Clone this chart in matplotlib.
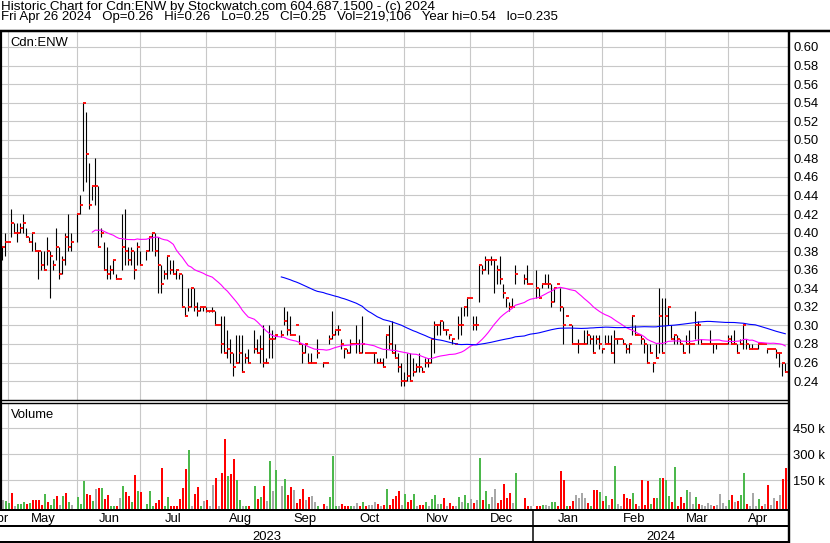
import numpy as np
import pandas as pd
import matplotlib
matplotlib.use('Agg')
import matplotlib.pyplot as plt
from matplotlib.lines import Line2D

plt.rcParams['font.family'] = ['Liberation Sans', 'DejaVu Sans']

# one slot per weekday, Thu Apr 27 2023 .. Fri Apr 26 2024 (None = no trade)
high = [.385, .40, .39, .425, .41, .41, .41, .42, .405, .395,
        .40, .39, .38, .38, .38, .395, .38, .37, .405, .385,
        .375, .40, .42, .40, None, .42, .44, .54, .53, .475,
        .45, .48, .45, .405, .39, .385, .365, .37, .355, .35,
        .42, .425, .385, .385, .38, .39, .38, None, .38, .395,
        .40, .40, .395, .365, .36, .375, .37, .37, .36, .355,
        .355, .32, .34, .34, .34, .325, .32, .32, .32, .315,
        .32, .315, .30, .31, .31, .295, .285, .27, .29, .29,
        .29, .27, .275, None, .295, .285, .29, .30, .265, .30,
        .295, .29, None, .295, .32, .315, .31, .29, .30, .29,
        .28, .28, .27, .27, .26, .285, None, .26, .26, .29,
        .315, .295, .30, .285, .275, .275, .285, .28, .30, .285,
        .31, .27, .27, .27, .27, .265, .265, .265, .29, .30,
        .305, .28, .27, .26, .25, .27, .27, .265, .26, .27,
        .255, .265, .265, .285, .305, .30, .305, .305, .295, .29,
        .285, .28, .31, .32, .32, .33, .33, .31, .31, .365,
        .365, .375, .37, .375, .37, .365, .375, .345, .33, .325,
        .33, .365, None, None, .355, .365, .345, None, .36, .34,
        .345, .355, .355, .345, .34, .345, .34, .32, .31, .30,
        .30, .28, .285, .28, .295, .295, .29, .29, .29, .29,
        .275, .29, .29, .29, .295, .285, .285, .285, .28, .28,
        .31, .30, .29, .29, .285, .28, .28, .26, .28, .34,
        .33, .33, .32, .30, .29, .29, .285, .28, .29, .295,
        .28, .315, .305, .285, .28, .28, .295, .28, .28, .28,
        .28, .28, .29, .29, .295, .28, .285, .30, .285, .28,
        .28, .275, .28, .28, .28, .275, .275, .275, .275, .27,
        .26, .26]
low = [.37, .375, .39, .395, .40, .39, .40, .40, .395, .39,
       .38, .38, .35, .36, .36, .365, .33, .36, .37, .35,
       .355, .365, .38, .38, None, .39, .42, .445, .455, .425,
       .435, .43, .385, .395, .36, .35, .35, .355, .35, .35,
       .36, .365, .365, .365, .35, .365, .365, None, .37, .38,
       .38, .375, .335, .335, .35, .35, .355, .355, .35, .35,
       .32, .31, .315, .32, .315, .31, .315, .315, .314, .314,
       .314, .30, .30, .27, .27, .265, .26, .245, .26, .26,
       .25, .26, .26, None, .27, .27, .26, .255, .26, .265,
       .265, .285, None, .288, .30, .29, .29, .29, .30, .28,
       .26, .27, .26, .26, .26, .265, None, .255, .26, .28,
       .285, .29, .29, .275, .265, .27, .27, .28, .27, .27,
       .27, .27, .27, .27, .26, .26, .26, .255, .265, .275,
       .27, .265, .25, .235, .235, .24, .24, .245, .25, .25,
       .25, .255, .255, .26, .27, .29, .29, .295, .29, .285,
       .28, .28, .285, .29, .31, .31, .33, .295, .295, .325,
       .355, .36, .355, .365, .335, .345, .345, .33, .32, .315,
       .32, .345, None, None, .345, .345, .345, None, .33, .33,
       .34, .345, .34, .32, .325, .345, .315, .28, .31, .30,
       .28, .28, .27, .28, .28, .28, .28, .27, .28, .275,
       .27, .28, .28, .27, .26, .28, .285, .28, .27, .27,
       .29, .29, .29, .28, .27, .26, .27, .25, .265, .27,
       .27, .28, .30, .285, .28, .28, .28, .27, .28, .27,
       .28, .285, .28, .28, .28, .28, .28, .27, .275, .28,
       .28, .28, .28, .28, .28, .27, .28, .275, .275, .275,
       .275, .275, .275, .28, .28, .27, .275, .275, .265, .255,
       .245, .25]
close = [.385, .39, .39, .41, .40, .40, .405, .41, .395, .39,
         .40, .38, .38, .365, .36, .38, .375, .365, .385, .355,
         .37, .395, .385, .39, None, .42, .43, .54, .485, .43,
         .45, .45, .385, .40, .36, .355, .36, .37, .35, .35,
         .385, .38, .37, .38, .36, .385, .365, None, .38, .395,
         .40, .38, .365, .345, .355, .375, .36, .355, .36, .355,
         .32, .31, .32, .34, .32, .315, .32, .32, .315, .315,
         .315, .30, .30, .28, .27, .275, .27, .255, .26, .27,
         .25, .265, .26, None, .275, .27, .275, .26, .26, .285,
         .285, .29, None, .29, .305, .295, .29, .29, .30, .28,
         .27, .28, .26, .26, .26, .27, None, .26, .26, .285,
         .29, .295, .295, .28, .275, .27, .28, .28, .28, .27,
         .28, .27, .27, .27, .27, .26, .26, .255, .29, .28,
         .27, .265, .255, .24, .24, .245, .24, .25, .255, .255,
         .25, .26, .26, .285, .30, .30, .305, .295, .295, .29,
         .285, .28, .30, .30, .32, .33, .33, .30, .30, .365,
         .36, .37, .37, .37, .37, .36, .35, .335, .33, .32,
         .32, .355, None, None, .35, .345, .345, None, .34, .33,
         .345, .345, .345, .325, .34, .345, .32, .30, .31, .30,
         .28, .28, .28, .28, .28, .29, .285, .27, .285, .28,
         .275, .28, .28, .27, .285, .285, .285, .28, .275, .28,
         .31, .29, .29, .285, .28, .26, .27, .26, .265, .31,
         .27, .31, .32, .285, .29, .285, .28, .27, .28, .28,
         .28, .30, .30, .28, .28, .28, .28, .28, .28, .28,
         .28, .28, .285, .28, .28, .27, .28, .30, .28, .275,
         .275, .275, .28, .28, .28, .275, .275, .275, .27, .27,
         .26, .25]
volume_k = [35, 31, 19, 77, 2, 15, 15, 23, 15, 19,
            37, 37, 37, 8, 71, 25, 5, 42, 60, 8,
            60, 77, 25, 5, 0, 54, 13, 146, 71, 67,
            31, 100, 106, 106, 42, 65, 2, 2, 2, 48,
            117, 83, 60, 25, 181, 88, 83, 0, 13, 88,
            2, 19, 37, 221, 2, 54, 2, 2, 2, 42,
            106, 215, 325, 2, 71, 112, 2, 31, 37, 2,
            123, 163, 2, 192, 388, 175, 187, 273, 152, 37,
            3, 2, 2, 0, 117, 42, 54, 117, 31, 262,
            88, 210, 0, 117, 158, 65, 112, 94, 19, 42,
            100, 37, 54, 60, 23, 2, 0, 13, 2, 54,
            290, 2, 2, 13, 2, 2, 2, 3, 19, 2,
            25, 2, 8, 8, 25, 13, 2, 8, 100, 8,
            42, 60, 88, 8, 71, 25, 37, 71, 2, 8,
            8, 25, 2, 42, 65, 13, 13, 48, 2, 19,
            2, 2, 54, 25, 65, 19, 42, 19, 37, 279,
            37, 88, 13, 54, 100, 19, 37, 129, 48, 77,
            19, 192, 0, 0, 48, 2, 2, 0, 2, 2,
            8, 8, 2, 25, 25, 2, 204, 152, 2, 2,
            31, 65, 48, 77, 48, 19, 2, 94, 94, 83,
            31, 60, 8, 42, 235, 13, 2, 71, 48, 44,
            77, 13, 2, 152, 8, 146, 13, 48, 48, 163,
            163, 152, 60, 25, 227, 2, 54, 19, 94, 83,
            13, 54, 13, 8, 2, 19, 8, 2, 8, 71,
            19, 2, 37, 65, 25, 31, 65, 192, 13, 2,
            77, 2, 42, 2, 13, 123, 8, 48, 31, 65,
            158, 219]
# g = up day, r = down day, n = unchanged, - = no trade
vol_colour = ("nggrngggrg" "rrrrgrggrn" "grgn-gggrr" "gnrgrrggrn" "grrgrgr-gg"
              "grrrggrrrr" "rrgnrrgnrn" "nrnrrgrrgg" "ngr-grgrng" "ng-ngrrnrr"
              "rnrnng-rng" "ggnrrrgnnr" "grnnnrnrgr" "rrrngrrgnr" "rgnggngrnr"
              "rngnggnrng" "rggnnrrrrr" "ng--rrn-rr" "gnnggrrrgr" "rnnnnrgrrg"
              "rgnrgnnrrr" "grnrrrgrgg" "rggrgrrrgn" "ngrnnnnrnn" "nngrnrggrn"
              "nngrnrnnrn" "rr")

month_names = ['Apr', 'May', 'Jun', 'Jul', 'Aug', 'Sep', 'Oct', 'Nov', 'Dec',
               'Jan', 'Feb', 'Mar', 'Apr']
month_lines = [2, 25, 46, 68, 91, 111, 134, 156, 177, 200, 221, 242]
year_names = ['2023', '2024']
price_ticks = np.round(np.arange(0.24, 0.601, 0.02), 2)
vol_ticks = [150, 300, 450]

header1 = "Historic Chart for Cdn:ENW by Stockwatch.com 604.687.1500 - (c) 2024"
header2 = ("Fri Apr 26 2024   Op=0.26   Hi=0.26   Lo=0.25   Cl=0.25   "
           "Vol=219,106   Year hi=0.54   lo=0.235")

W, H = 830, 543
def box(x0, y0, x1, y1):  # pixel box -> figure rect
    return [x0 / W, 1 - y1 / H, (x1 - x0) / W, (y1 - y0) / H]

n = len(close)
idx = np.arange(n)
hi = np.array(high, dtype=float)
lo = np.array(low, dtype=float)
cl = np.array(close, dtype=float)
vol = np.array(volume_k, dtype=float)

x0, x1 = (2 - 2.3) / 3, (789 - 2.3) / 3
grid_c = '#c8c8c8'

fig = plt.figure(figsize=(W / 100, H / 100), dpi=100)
fig.patch.set_facecolor('white')

# price panel
ax = fig.add_axes(box(2, 31, 789, 399.5))
ax.set_xlim(x0, x1)
ax.set_ylim(0.60 - 352.5 / 928, 0.60 + 16 / 928)
ax.set_xticks(month_lines)
ax.set_yticks(price_ticks)
ax.set_yticklabels(['%.2f' % t for t in price_ticks])
ax.yaxis.tick_right()
ax.tick_params(axis='y', length=0, pad=3.6, labelsize=9.4)
ax.tick_params(axis='x', length=0, labelbottom=False)
ax.grid(True, color=grid_c, lw=0.8)
ax.set_axisbelow(True)
for s in ax.spines.values():
    s.set_visible(False)

ok = ~np.isnan(cl)
ax.vlines(idx[ok], lo[ok], hi[ok], color='black', lw=0.8, zorder=3)
ax.hlines(cl[ok], idx[ok] - 0.05, idx[ok] + 0.95, color='#ff0000', lw=1.3, zorder=4)

traded = pd.Series(cl[ok], index=idx[ok])
ma30 = traded.rolling(30).mean()
ma90 = traded.rolling(90).mean()
ax.plot(ma30.index, ma30.values, color='#ff00ff', lw=0.8, zorder=5)
ax.plot(ma90.index, ma90.values, color='#0000ff', lw=0.8, zorder=5)
ax.text(8.5 / 787, 1 - 15 / 368.5, 'Cdn:ENW', transform=ax.transAxes,
        fontsize=9.4, va='baseline', ha='left')

# volume panel
axv = fig.add_axes(box(2, 402.5, 789, 509.5), sharex=ax)
vbot = -18.5
axv.set_ylim(vbot, 599)
axv.set_yticks(vol_ticks)
axv.set_yticklabels(['%d k' % t for t in vol_ticks])
axv.yaxis.tick_right()
axv.tick_params(axis='y', length=0, pad=3, labelsize=9.4)
axv.tick_params(axis='x', length=0, labelbottom=False)
axv.grid(True, color=grid_c, lw=0.8)
axv.set_axisbelow(True)
for s in axv.spines.values():
    s.set_visible(False)
cmap = {'g': '#4cb84c', 'r': '#ff0000', 'n': '#a8a8a8', '-': 'white'}
cols = [cmap[c] for c in vol_colour]
axv.bar(idx, vol - vbot, bottom=vbot, width=0.67, align='edge', color=cols,
        linewidth=0, zorder=3)
axv.text(8.5 / 787, 1 - 15.2 / 107, 'Volume', transform=axv.transAxes,
         fontsize=9.4, va='baseline', ha='left')

# date rows
axd = fig.add_axes(box(2, 509.5, 789, 543), sharex=ax)
axd.set_ylim(543, 509.5)
axd.axis('off')
edges = month_lines + [n]
centres = [-1.1] + [(edges[k] + edges[k + 1]) / 2 for k in range(len(edges) - 1)]
for name, c in zip(month_names, centres):
    axd.text(c, 522, name, ha='center', va='baseline', fontsize=9.4, clip_on=False)
ybounds = [(0 - 2.3) / 3, month_lines[8], x1]
for k, name in enumerate(year_names):
    axd.text((ybounds[k] + ybounds[k + 1]) / 2, 539.5, name, ha='center',
             va='baseline', fontsize=9.4)

# header, two tight lines
fig.text(1 / W, 1 - 9.6 / H, header1, fontsize=9.7, va='baseline', ha='left')
fig.text(1 / W, 1 - 19.8 / H, header2, fontsize=9.5, va='baseline', ha='left')

# frame lines (pixel coordinates)
def pline(xs, ys, px):
    fig.add_artist(Line2D([x / W for x in xs], [1 - y / H for y in ys],
                          color='black', lw=px * 0.72, solid_capstyle='butt'))

pline([0, W], [30.7, 30.7], 2.5)
pline([1, 1], [30, 510], 2.2)
pline([789.3, 789.3], [30, 543], 2.4)
pline([829.5, 829.5], [30, 543], 1)
pline([0, 789], [399.5, 399.5], 1.4)
pline([0, 789], [402.5, 402.5], 1.4)
pline([0, 789], [509.8, 509.8], 2)
pline([0, 789], [526.3, 526.3], 2)
pline([0, 789], [542, 542], 2)
pline([533.3, 533.3], [509.5, 542], 1.5)

fig.savefig('out.png', dpi=100, facecolor='white')
